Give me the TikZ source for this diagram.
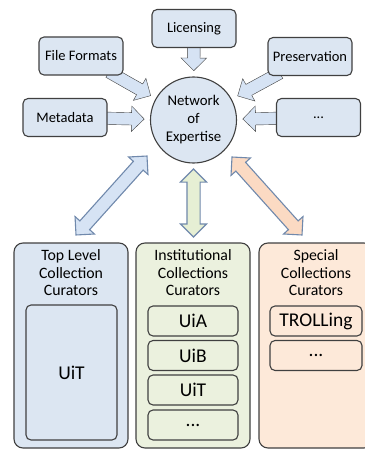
\documentclass[tikz,border=0pt]{standalone}
\usepackage{fontspec}
\setmainfont{Carlito}
\usetikzlibrary{shapes.arrows, calc, backgrounds}

\definecolor{boxblue}{RGB}{220,230,242}
\definecolor{boxgreen}{RGB}{235,241,222}
\definecolor{boxpeach}{RGB}{253,233,217}
\definecolor{arrowblue}{RGB}{214,227,244}
\definecolor{arrowgreen}{RGB}{230,239,212}
\definecolor{arrowpeach}{RGB}{251,218,195}
\definecolor{edgegray}{RGB}{64,64,64}
\definecolor{edgeblue}{RGB}{112,137,172}

\begin{document}
\begin{tikzpicture}[
            x = 1pt, y = -1pt,
            line width = 1.1pt,
            topic/.style = {draw = edgegray, fill = boxblue, rounded corners = 5pt, minimum width = 84pt, minimum height = 38pt, font = \fontsize{14.5}{17.5}\selectfont},
            hub/.style = {draw = edgegray, fill = boxblue, circle, minimum size = 86pt, inner sep = 0pt, align = center, font = \fontsize{14.8}{18}\selectfont},
            panel/.style = {draw = edgegray, rounded corners = 9pt, minimum width = 114pt, minimum height = 205pt},
            title/.style = {align = center, font = \fontsize{15.8}{17.5}\selectfont},
            member/.style = {draw = edgegray, rounded corners = 5pt, minimum width = 90pt, minimum height = 30pt, font = \fontsize{19.5}{22}\selectfont},
            blk/.style = {single arrow, draw = edgegray, fill = arrowblue, inner sep = 6pt, single arrow head extend = 6.5pt, minimum height = 48pt, sloped, allow upside down},
            dblk/.style = {double arrow, draw = edgeblue, inner sep = 6pt, double arrow head extend = 6.5pt, sloped, allow upside down},
        ]
        \useasboundingbox (0,0) rectangle (364,449);

        \node (net) [hub] at (193.5, 120) {Network\\of\\Expertise};

        \node (lic) [topic] at (194, 28.5) {Licensing};
        \node (ff) [topic] at (81, 56) {File Formats};
        \node (pres) [topic] at (310, 56.5) {Preservation};
        \node (meta) [topic] at (65, 117.5) {Metadata};
        \node (more) [topic] at (318.5, 117.5) {...};

        \coordinate (t-lic) at ($(net)!49pt!(lic)$);
        \coordinate (t-ff) at ($(net)!49pt!(ff)$);
        \coordinate (t-pres) at ($(net)!50pt!(pres)$);
        \coordinate (t-meta) at ($(net)!49pt!(meta)$);
        \coordinate (t-more) at ($(net)!49pt!(more)$);

        \begin{scope}[on background layer]
            \path (lic) -- (t-lic) node [blk, pos = 1, anchor = tip] {};
            \path (ff) -- (t-ff) node [blk, pos = 1, anchor = tip] {};
            \path (pres) -- (t-pres) node [blk, pos = 1, anchor = tip] {};
            \path (meta) -- (t-meta) node [blk, pos = 1, anchor = tip] {};
            \path (more) -- (t-more) node [blk, pos = 1, anchor = tip] {};
        \end{scope}

        % curator groups
        \node (top) [panel, fill = boxblue] at (71, 345.5) {};
        \node (inst) [panel, fill = boxgreen] at (193, 345.5) {};
        \node (spec) [panel, fill = boxpeach] at (316, 345.5) {};

        \node (top-t) [title] at (71, 273) {Top Level\\Collection\\Curators};
        \node (inst-t) [title] at (193, 273) {Institutional\\Collections\\Curators};
        \node (spec-t) [title] at (316, 273) {Special\\Collections\\Curators};

        \node (uit-top) [member, minimum width = 91pt, minimum height = 135pt] at (71.5, 372.5) {UiT};

        \node (uia) [member] at (193, 321) {UiA};
        \node (uib) [member] at (193, 355.5) {UiB};
        \node (uit) [member] at (193, 390) {UiT};
        \node (inst-more) [member] at (193, 425) {...};

        \node (trolling) [member, minimum width = 92pt] at (316, 321) {TROLLing};
        \node (spec-more) [member, minimum width = 92pt] at (316, 355.5) {...};

        % links between the network and the groups
        \coordinate (a1) at (147, 156);
        \coordinate (a2) at (76, 235);
        \coordinate (b1) at (193.5, 169);
        \coordinate (b2) at (193.5, 237);
        \coordinate (c1) at (232, 157);
        \coordinate (c2) at (302, 235);

        \path let \p1 = ($(a2)-(a1)$), \n1 = {veclen(\x1,\y1)} in
            (a1) -- (a2) node [dblk, fill = arrowblue, midway, minimum height = \n1] {};
        \path let \p1 = ($(b2)-(b1)$), \n1 = {veclen(\x1,\y1)} in
            (b1) -- (b2) node [dblk, fill = arrowgreen, midway, minimum height = \n1] {};
        \path let \p1 = ($(c2)-(c1)$), \n1 = {veclen(\x1,\y1)} in
            (c1) -- (c2) node [dblk, fill = arrowpeach, midway, minimum height = \n1] {};
    \end{tikzpicture}
\end{document}
